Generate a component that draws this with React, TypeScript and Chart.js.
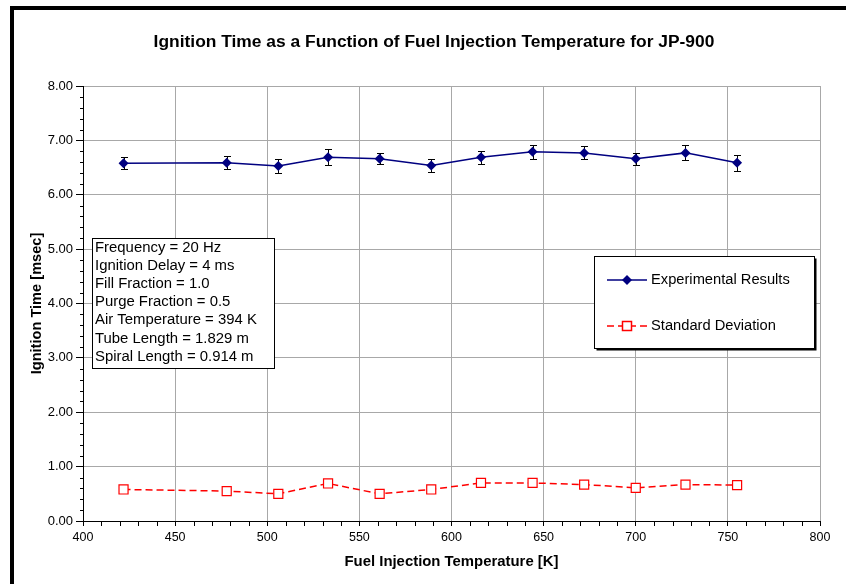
import React, { useEffect, useRef } from "react";
import { Chart, registerables } from "chart.js";

Chart.register(...registerables);

const TITLE = "Ignition Time as a Function of Fuel Injection Temperature for JP-900";
const X_TITLE = "Fuel Injection Temperature [K]";
const Y_TITLE = "Ignition Time [msec]";

const temperatures = [422, 478, 506, 533, 561, 589, 616, 644, 672, 700, 727, 755];
const ignitionTime = [6.58, 6.59, 6.53, 6.69, 6.66, 6.54, 6.69, 6.79, 6.77, 6.66, 6.77, 6.59];
const errorBars = [0.11, 0.12, 0.13, 0.15, 0.1, 0.12, 0.12, 0.13, 0.12, 0.11, 0.14, 0.15];
const standardDeviation = [0.58, 0.55, 0.5, 0.69, 0.5, 0.58, 0.7, 0.7, 0.67, 0.61, 0.67, 0.66];

const seriesNames = ["Experimental Results", "Standard Deviation"];
const conditions = [
  "Frequency = 20 Hz",
  "Ignition Delay = 4 ms",
  "Fill Fraction = 1.0",
  "Purge Fraction = 0.5",
  "Air Temperature = 394 K",
  "Tube Length = 1.829 m",
  "Spiral Length = 0.914 m",
];

const FONT = '"Liberation Sans", Arial, Helvetica, sans-serif';
const NAVY = "#000080";
const RED = "#ff0000";
const GRID = "#a8a8a8";

function drawDiamond(ctx: CanvasRenderingContext2D, x: number, y: number, r: number) {
  ctx.beginPath();
  ctx.moveTo(x - r, y);
  ctx.lineTo(x, y - r);
  ctx.lineTo(x + r, y);
  ctx.lineTo(x, y + r);
  ctx.closePath();
  ctx.fillStyle = NAVY;
  ctx.fill();
}

const decorPlugin = {
  id: "decor",
  beforeDraw(chart: any) {
    const ctx = chart.ctx as CanvasRenderingContext2D;
    ctx.save();
    ctx.fillStyle = "#ffffff";
    ctx.fillRect(0, 0, chart.width, chart.height);
    ctx.fillStyle = "#000000";
    ctx.fillRect(10, 6, chart.width - 10, 4);
    ctx.fillRect(10, 6, 4, chart.height - 6);
    // title
    ctx.font = `bold 17.4px ${FONT}`;
    ctx.textAlign = "center";
    ctx.textBaseline = "middle";
    ctx.fillText(TITLE, 434, 42);
    ctx.restore();
  },
  afterDraw(chart: any) {
    const ctx = chart.ctx as CanvasRenderingContext2D;
    const xs = chart.scales.x;
    const ys = chart.scales.y;
    const area = chart.chartArea;
    ctx.save();
    // minor ticks
    ctx.strokeStyle = "#000000";
    ctx.lineWidth = 1;
    ctx.beginPath();
    for (let i = 0; i <= 40; i++) {
      if (i % 5 === 0) continue;
      const py = Math.round(ys.getPixelForValue(i * 0.2)) + 0.5;
      ctx.moveTo(area.left - 3, py);
      ctx.lineTo(area.left, py);
    }
    for (let t = 400; t <= 800; t += 10) {
      if (t % 50 === 0) continue;
      const px = Math.round(xs.getPixelForValue(t)) + 0.5;
      ctx.moveTo(px, area.bottom);
      ctx.lineTo(px, area.bottom + 5);
    }
    ctx.stroke();

    // conditions text box
    const bx = 92.5, by = 238.5, bw = 182, bh = 130;
    ctx.fillStyle = "#ffffff";
    ctx.fillRect(bx, by, bw, bh);
    ctx.strokeStyle = "#000000";
    ctx.lineWidth = 1;
    ctx.strokeRect(bx, by, bw, bh);
    ctx.fillStyle = "#000000";
    ctx.font = `14.9px ${FONT}`;
    ctx.textAlign = "left";
    ctx.textBaseline = "middle";
    conditions.forEach((line, i) => {
      ctx.fillText(line, 95, 247.5 + i * 18.2);
    });

    // legend
    const lx = 594.5, ly = 256.5, lw = 220, lh = 92;
    ctx.fillStyle = "#000000";
    ctx.fillRect(lx + 2, ly + 2, lw, lh);
    ctx.fillStyle = "#ffffff";
    ctx.fillRect(lx, ly, lw, lh);
    ctx.strokeStyle = "#000000";
    ctx.strokeRect(lx, ly, lw, lh);

    // item 1
    const y1 = 280;
    ctx.strokeStyle = NAVY;
    ctx.lineWidth = 1.5;
    ctx.setLineDash([]);
    ctx.beginPath();
    ctx.moveTo(607, y1);
    ctx.lineTo(647, y1);
    ctx.stroke();
    drawDiamond(ctx, 627, y1, 5);

    // item 2
    const y2 = 326;
    ctx.strokeStyle = RED;
    ctx.lineWidth = 1.5;
    ctx.setLineDash([7, 4]);
    ctx.beginPath();
    ctx.moveTo(607, y2);
    ctx.lineTo(647, y2);
    ctx.stroke();
    ctx.setLineDash([]);
    ctx.fillStyle = "#ffffff";
    ctx.fillRect(622.5, y2 - 4.5, 9, 9);
    ctx.strokeRect(622.5, y2 - 4.5, 9, 9);

    ctx.fillStyle = "#000000";
    ctx.font = `14.7px ${FONT}`;
    ctx.textAlign = "left";
    ctx.textBaseline = "middle";
    ctx.fillText(seriesNames[0], 651, y1);
    ctx.fillText(seriesNames[1], 651, y2);
    ctx.restore();
  },
};

const errorBarPlugin = {
  id: "errorBars",
  beforeDatasetsDraw(chart: any) {
    const ctx = chart.ctx as CanvasRenderingContext2D;
    const xs = chart.scales.x;
    const ys = chart.scales.y;
    ctx.save();
    ctx.strokeStyle = "#000000";
    ctx.lineWidth = 1;
    ctx.beginPath();
    temperatures.forEach((t, i) => {
      const px = Math.round(xs.getPixelForValue(t)) + 0.5;
      const top = Math.round(ys.getPixelForValue(ignitionTime[i] + errorBars[i])) + 0.5;
      const bot = Math.round(ys.getPixelForValue(ignitionTime[i] - errorBars[i])) + 0.5;
      ctx.moveTo(px, top);
      ctx.lineTo(px, bot);
      ctx.moveTo(px - 3.5, top);
      ctx.lineTo(px + 3.5, top);
      ctx.moveTo(px - 3.5, bot);
      ctx.lineTo(px + 3.5, bot);
    });
    ctx.stroke();
    ctx.restore();
  },
};

export default function App() {
  const canvasRef = useRef<HTMLCanvasElement | null>(null);

  useEffect(() => {
    const canvas = canvasRef.current;
    if (!canvas) return;
    const chart = new Chart(canvas, {
      type: "scatter",
      data: {
        datasets: [
          {
            label: seriesNames[0],
            data: temperatures.map((t, i) => ({ x: t, y: ignitionTime[i] })),
            showLine: true,
            borderColor: NAVY,
            borderWidth: 1.5,
            backgroundColor: NAVY,
            pointStyle: "rectRot",
            pointRadius: 5,
            pointBorderWidth: 0,
            pointBackgroundColor: NAVY,
            pointBorderColor: NAVY,
          },
          {
            label: seriesNames[1],
            data: temperatures.map((t, i) => ({ x: t, y: standardDeviation[i] })),
            showLine: true,
            borderColor: RED,
            borderWidth: 1.5,
            borderDash: [7, 4],
            backgroundColor: "#ffffff",
            pointStyle: "rect",
            pointRadius: 6.4,
            pointBorderWidth: 1.2,
            pointBackgroundColor: "#ffffff",
            pointBorderColor: RED,
          },
        ],
      },
      options: {
        responsive: false,
        animation: false,
        devicePixelRatio: 1,
        layout: { padding: { left: 0, top: 86, right: 26, bottom: 0 } },
        plugins: {
          legend: { display: false },
          title: { display: false },
          tooltip: { enabled: false },
        },
        scales: {
          x: {
            type: "linear",
            min: 400,
            max: 800,
            afterFit: (scale: any) => {
              scale.height = 63;
            },
            ticks: {
              stepSize: 50,
              padding: 4,
              color: "#000000",
              font: { family: FONT, size: 12.5 },
              maxRotation: 0,
            },
            grid: {
              color: GRID,
              lineWidth: 1,
              tickColor: "#000000",
              tickLength: 5,
            },
            border: { color: "#000000", width: 1 },
            title: {
              display: true,
              text: X_TITLE,
              color: "#000000",
              font: { family: FONT, size: 14.9, weight: "bold" },
              padding: { top: 0, bottom: 13 },
            },
          },
          y: {
            type: "linear",
            min: 0,
            max: 8,
            afterFit: (scale: any) => {
              scale.width = 83;
            },
            ticks: {
              stepSize: 1,
              padding: 3,
              color: "#000000",
              font: { family: FONT, size: 13 },
              callback: (v: any) => Number(v).toFixed(2),
            },
            grid: {
              color: GRID,
              lineWidth: 1,
              tickColor: "#000000",
              tickLength: 7,
            },
            border: { color: "#000000", width: 1 },
            title: {
              display: true,
              text: Y_TITLE,
              color: "#000000",
              font: { family: FONT, size: 14.6, weight: "bold" },
              padding: { top: 28, bottom: 0 },
            },
          },
        },
      },
      plugins: [decorPlugin, errorBarPlugin],
    });
    return () => chart.destroy();
  }, []);

  return (
    <canvas
      ref={canvasRef}
      width={846}
      height={584}
      style={{ position: "fixed", left: 0, top: 0, width: 846, height: 584 }}
    />
  );
}
